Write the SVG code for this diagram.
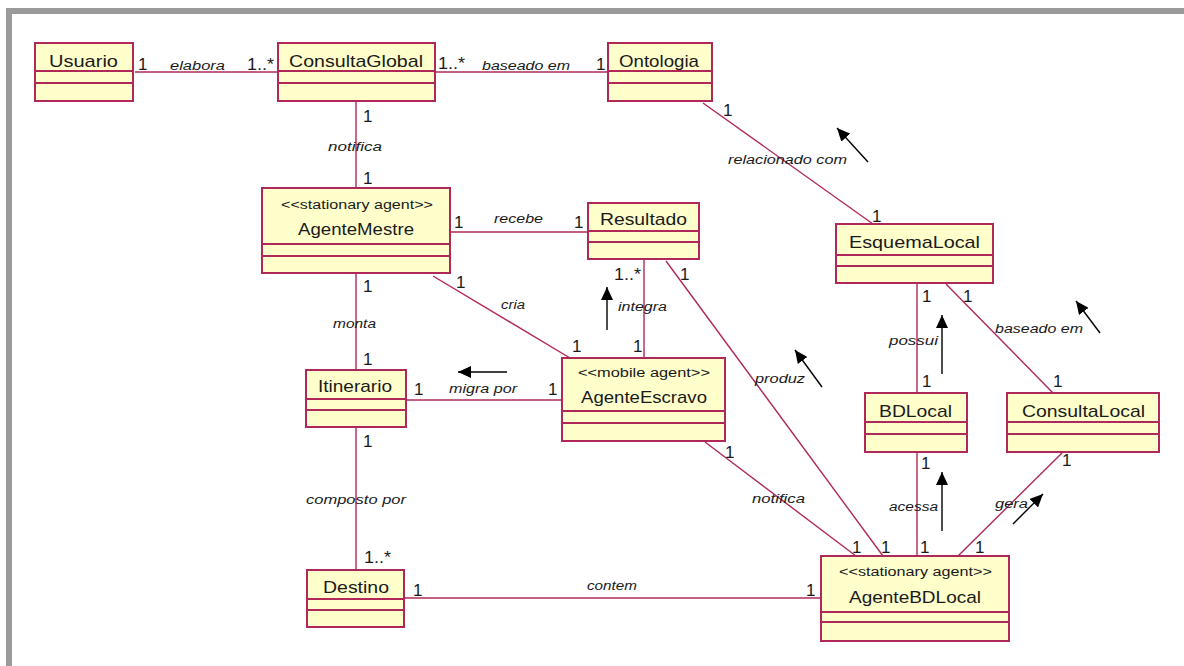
<svg xmlns="http://www.w3.org/2000/svg" width="1184" height="666" viewBox="0 0 1184 666">
  <style>
    .cls rect { fill: #ffffcc; stroke: #b0285a; stroke-width: 2; }
    .cls line { stroke: #b0285a; stroke-width: 2; }
    .name { font-family: "Liberation Sans", Arial, sans-serif; font-size: 17px; fill: #1a1a1a; }
    .stereo { font-family: "Liberation Sans", Arial, sans-serif; font-size: 12px; fill: #1a1a1a; }
    .lbl { font-family: "Liberation Sans", Arial, sans-serif; font-size: 12.5px; font-style: italic; fill: #1a1a1a; }
    .mult { font-family: "Liberation Sans", Arial, sans-serif; font-size: 17px; fill: #1a1a1a; }
    .assoc line { stroke: #b0285a; stroke-width: 1.4; fill: none; }
    .dir line { stroke: #000; stroke-width: 1.4; marker-end: url(#head); }
  </style>
  <defs>
    <marker id="head" markerUnits="userSpaceOnUse" markerWidth="14" markerHeight="12" refX="13" refY="6" orient="auto">
      <path d="M0,0 L13,6 L0,12 Z" fill="#000"/>
    </marker>
  </defs>

  <rect width="1184" height="666" fill="#fff"/>
  <!-- window frame -->
  <rect x="6" y="8" width="1178" height="6" fill="#9a9a9a"/>
  <rect x="6" y="8" width="6" height="658" fill="#9a9a9a"/>

  <!-- associations -->
  <g id="connectors" class="assoc">
    <line x1="135" y1="72" x2="277" y2="72"/>
    <line x1="436" y1="72" x2="607" y2="72"/>
    <line x1="356" y1="102" x2="356" y2="188"/>
    <line x1="703" y1="103" x2="873" y2="224"/>
    <line x1="451" y1="232" x2="588" y2="232"/>
    <line x1="356" y1="274" x2="356" y2="370"/>
    <line x1="433" y1="276" x2="570" y2="358"/>
    <line x1="644" y1="260" x2="644" y2="358"/>
    <line x1="666" y1="261" x2="883" y2="556"/>
    <line x1="407" y1="400" x2="562" y2="400"/>
    <line x1="356" y1="428" x2="356" y2="570"/>
    <line x1="705" y1="442" x2="856" y2="556"/>
    <line x1="405" y1="598" x2="821" y2="598"/>
    <line x1="917" y1="284" x2="917" y2="393"/>
    <line x1="946" y1="284" x2="1053" y2="393"/>
    <line x1="917" y1="453" x2="917" y2="556"/>
    <line x1="1062" y1="453" x2="958" y2="556"/>
  </g>

  <!-- reading-direction arrows -->
  <g id="directions" class="dir">
    <line x1="868" y1="162" x2="837" y2="128"/>
    <line x1="607" y1="330" x2="607" y2="287"/>
    <line x1="507" y1="372" x2="458" y2="372"/>
    <line x1="822" y1="387" x2="795" y2="350"/>
    <line x1="942" y1="374" x2="942" y2="315"/>
    <line x1="1100" y1="333" x2="1076" y2="301"/>
    <line x1="942" y1="531" x2="942" y2="472"/>
    <line x1="1013" y1="524" x2="1043" y2="494"/>
  </g>

  <!-- association names -->
  <g id="assoc-labels">
    <text class="lbl" x="170" y="70" textLength="55" lengthAdjust="spacingAndGlyphs">elabora</text>
    <text class="lbl" x="482" y="70" textLength="88" lengthAdjust="spacingAndGlyphs">baseado em</text>
    <text class="lbl" x="328" y="151" textLength="54" lengthAdjust="spacingAndGlyphs">notifica</text>
    <text class="lbl" x="728" y="164" textLength="119" lengthAdjust="spacingAndGlyphs">relacionado com</text>
    <text class="lbl" x="494" y="223" textLength="49" lengthAdjust="spacingAndGlyphs">recebe</text>
    <text class="lbl" x="501" y="309" textLength="24" lengthAdjust="spacingAndGlyphs">cria</text>
    <text class="lbl" x="618" y="311" textLength="49" lengthAdjust="spacingAndGlyphs">integra</text>
    <text class="lbl" x="333" y="328" textLength="43" lengthAdjust="spacingAndGlyphs">monta</text>
    <text class="lbl" x="449" y="393" textLength="68" lengthAdjust="spacingAndGlyphs">migra por</text>
    <text class="lbl" x="755" y="383" textLength="50" lengthAdjust="spacingAndGlyphs">produz</text>
    <text class="lbl" x="889" y="345" textLength="49" lengthAdjust="spacingAndGlyphs">possui</text>
    <text class="lbl" x="995" y="333" textLength="88" lengthAdjust="spacingAndGlyphs">baseado em</text>
    <text class="lbl" x="889" y="511" textLength="49" lengthAdjust="spacingAndGlyphs">acessa</text>
    <text class="lbl" x="995" y="508" textLength="33" lengthAdjust="spacingAndGlyphs">gera</text>
    <text class="lbl" x="752" y="503" textLength="53" lengthAdjust="spacingAndGlyphs">notifica</text>
    <text class="lbl" x="306" y="504" textLength="100" lengthAdjust="spacingAndGlyphs">composto por</text>
    <text class="lbl" x="587" y="590" textLength="50" lengthAdjust="spacingAndGlyphs">contem</text>
  </g>

  <!-- multiplicities -->
  <g id="multiplicities" class="mult">
    <text x="138" y="70">1</text>
    <text x="247" y="70" textLength="27" lengthAdjust="spacingAndGlyphs">1..*</text>
    <text x="438" y="69" textLength="27" lengthAdjust="spacingAndGlyphs">1..*</text>
    <text x="596" y="70">1</text>
    <text x="363" y="122">1</text>
    <text x="363" y="184">1</text>
    <text x="723" y="116">1</text>
    <text x="872" y="222">1</text>
    <text x="454" y="228">1</text>
    <text x="574" y="228">1</text>
    <text x="363" y="292">1</text>
    <text x="456" y="288">1</text>
    <text x="363" y="365">1</text>
    <text x="572" y="352">1</text>
    <text x="633" y="352">1</text>
    <text x="614" y="280" textLength="27" lengthAdjust="spacingAndGlyphs">1..*</text>
    <text x="680" y="280">1</text>
    <text x="414" y="395">1</text>
    <text x="548" y="395">1</text>
    <text x="363" y="447">1</text>
    <text x="364" y="563" textLength="27" lengthAdjust="spacingAndGlyphs">1..*</text>
    <text x="413" y="596">1</text>
    <text x="806" y="596">1</text>
    <text x="922" y="302">1</text>
    <text x="963" y="302">1</text>
    <text x="922" y="387">1</text>
    <text x="1053" y="387">1</text>
    <text x="921" y="469">1</text>
    <text x="1062" y="466">1</text>
    <text x="725" y="458">1</text>
    <text x="852" y="553">1</text>
    <text x="881" y="553">1</text>
    <text x="920" y="553">1</text>
    <text x="975" y="553">1</text>
  </g>

  <!-- classes -->
  <g id="Usuario" class="cls">
    <rect x="35" y="43" width="98" height="58"/>
    <line x1="35" y1="71" x2="133" y2="71"/><line x1="35" y1="83" x2="133" y2="83"/>
    <text class="name" x="49" y="67" textLength="69" lengthAdjust="spacingAndGlyphs">Usuario</text>
  </g>
  <g id="ConsultaGlobal" class="cls">
    <rect x="278" y="43" width="157" height="58"/>
    <line x1="278" y1="71" x2="435" y2="71"/><line x1="278" y1="83" x2="435" y2="83"/>
    <text class="name" x="289" y="67" textLength="134" lengthAdjust="spacingAndGlyphs">ConsultaGlobal</text>
  </g>
  <g id="Ontologia" class="cls">
    <rect x="608" y="43" width="104" height="58"/>
    <line x1="608" y1="71" x2="712" y2="71"/><line x1="608" y1="83" x2="712" y2="83"/>
    <text class="name" x="619" y="67" textLength="80" lengthAdjust="spacingAndGlyphs">Ontologia</text>
  </g>
  <g id="AgenteMestre" class="cls">
    <rect x="262" y="188" width="188" height="85"/>
    <line x1="262" y1="244" x2="450" y2="244"/><line x1="262" y1="256" x2="450" y2="256"/>
    <text class="stereo" x="281" y="209" textLength="152" lengthAdjust="spacingAndGlyphs">&lt;&lt;stationary agent&gt;&gt;</text>
    <text class="name" x="298" y="235" textLength="116" lengthAdjust="spacingAndGlyphs">AgenteMestre</text>
  </g>
  <g id="Resultado" class="cls">
    <rect x="588" y="203" width="111" height="56"/>
    <line x1="588" y1="231" x2="699" y2="231"/><line x1="588" y1="242" x2="699" y2="242"/>
    <text class="name" x="600" y="225" textLength="87" lengthAdjust="spacingAndGlyphs">Resultado</text>
  </g>
  <g id="EsquemaLocal" class="cls">
    <rect x="836" y="224" width="157" height="59"/>
    <line x1="836" y1="255" x2="993" y2="255"/><line x1="836" y1="266" x2="993" y2="266"/>
    <text class="name" x="849" y="248" textLength="131" lengthAdjust="spacingAndGlyphs">EsquemaLocal</text>
  </g>
  <g id="Itinerario" class="cls">
    <rect x="306" y="370" width="100" height="57"/>
    <line x1="306" y1="399" x2="406" y2="399"/><line x1="306" y1="410" x2="406" y2="410"/>
    <text class="name" x="318" y="392" textLength="74" lengthAdjust="spacingAndGlyphs">Itinerario</text>
  </g>
  <g id="AgenteEscravo" class="cls">
    <rect x="562" y="358" width="163" height="83"/>
    <line x1="562" y1="411" x2="725" y2="411"/><line x1="562" y1="423" x2="725" y2="423"/>
    <text class="stereo" x="578" y="377" textLength="132" lengthAdjust="spacingAndGlyphs">&lt;&lt;mobile agent&gt;&gt;</text>
    <text class="name" x="581" y="403" textLength="126" lengthAdjust="spacingAndGlyphs">AgenteEscravo</text>
  </g>
  <g id="BDLocal" class="cls">
    <rect x="865" y="393" width="102" height="59"/>
    <line x1="865" y1="422" x2="967" y2="422"/><line x1="865" y1="434" x2="967" y2="434"/>
    <text class="name" x="879" y="417" textLength="73" lengthAdjust="spacingAndGlyphs">BDLocal</text>
  </g>
  <g id="ConsultaLocal" class="cls">
    <rect x="1007" y="393" width="152" height="59"/>
    <line x1="1007" y1="422" x2="1159" y2="422"/><line x1="1007" y1="434" x2="1159" y2="434"/>
    <text class="name" x="1022" y="417" textLength="123" lengthAdjust="spacingAndGlyphs">ConsultaLocal</text>
  </g>
  <g id="AgenteBDLocal" class="cls">
    <rect x="821" y="556" width="188" height="85"/>
    <line x1="821" y1="612" x2="1009" y2="612"/><line x1="821" y1="622" x2="1009" y2="622"/>
    <text class="stereo" x="839" y="576" textLength="153" lengthAdjust="spacingAndGlyphs">&lt;&lt;stationary agent&gt;&gt;</text>
    <text class="name" x="849" y="603" textLength="132" lengthAdjust="spacingAndGlyphs">AgenteBDLocal</text>
  </g>
  <g id="Destino" class="cls">
    <rect x="307" y="570" width="97" height="57"/>
    <line x1="307" y1="599" x2="404" y2="599"/><line x1="307" y1="610" x2="404" y2="610"/>
    <text class="name" x="323" y="593" textLength="66" lengthAdjust="spacingAndGlyphs">Destino</text>
  </g>
</svg>
